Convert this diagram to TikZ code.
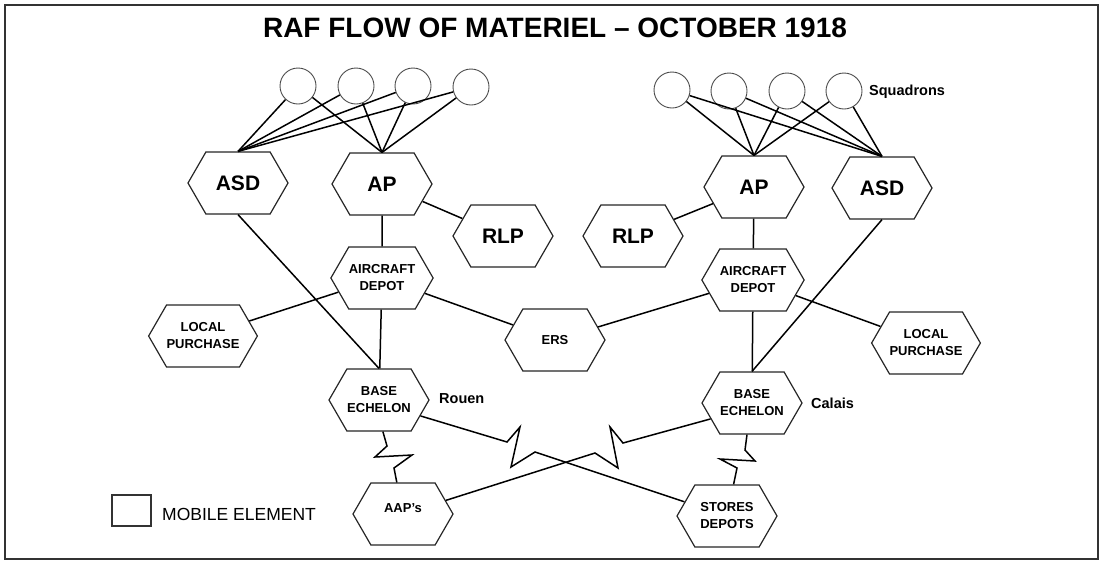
\documentclass[tikz,border=0pt]{standalone}
\usepackage{fontspec}
\setmainfont{Liberation Sans}
\usetikzlibrary{shapes.symbols,calc}
\begin{document}
\begin{tikzpicture}[x=1pt,y=-1pt,
  hexbase/.style={signal, signal to=west and east, signal pointer angle=120,
    draw=black!85, line width=1.2pt, minimum width=100pt, minimum height=62pt,
    inner sep=0pt, align=center, fill=white},
  hexbig/.style={hexbase, font=\bfseries\fontsize{21}{24}\selectfont},
  hexsmall/.style={hexbase, font=\bfseries\fontsize{13}{17}\selectfont},
  sq/.style={circle, draw=black!70, line width=0.9pt, minimum size=36pt, inner sep=0pt},
  conn/.style={draw=black, line width=1.5pt, line join=miter},
  lbl/.style={font=\bfseries\fontsize{14.5}{17}\selectfont, inner sep=0pt}]
\useasboundingbox (0,0) rectangle (1103,563);
\draw[line width=1.6pt, draw=black!80] (5,5) rectangle (1098,559);
\node[font=\bfseries\fontsize{28}{32}\selectfont, inner sep=0pt] (title) at (555,28) {RAF FLOW OF MATERIEL – OCTOBER 1918};

% squadrons
\node[sq] (c1) at (298,86) {};
\node[sq] (c2) at (356,86) {};
\node[sq] (c3) at (413,86) {};
\node[sq] (c4) at (471,87) {};
\node[sq] (d1) at (672,90) {};
\node[sq] (d2) at (729,91) {};
\node[sq] (d3) at (787,91) {};
\node[sq] (d4) at (844,91) {};
\node[lbl, anchor=west] (squad) at (869,92) {Squadrons};

% hexagons left
\node[hexbig] (asdL) at (238,183) {ASD};
\node[hexbig] (apL) at (382,184) {AP};
\node[hexbig] (rlpL) at (503,236) {RLP};
\node[hexsmall] (adL) at (382,278) {AIRCRAFT\\DEPOT};
\node[hexsmall] (lpL) at (203,336) {LOCAL\\PURCHASE};
\node[hexsmall] (beL) at (379,400) {BASE\\ECHELON};
\node[hexsmall] (ers) at (555,340) {ERS};
\node[hexsmall, text height=9pt, text depth=12.4pt] (aap) at (403,514) {AAP's};
% hexagons right
\node[hexbig] (apR) at (754,187) {AP};
\node[hexbig] (asdR) at (882,188) {ASD};
\node[hexbig] (rlpR) at (633,236) {RLP};
\node[hexsmall] (adR) at (753,280) {AIRCRAFT\\DEPOT};
\node[hexsmall] (lpR) at (926,343) {LOCAL\\PURCHASE};
\node[hexsmall] (beR) at (752,403) {BASE\\ECHELON};
\node[hexsmall] (sd) at (727,516) {STORES\\DEPOTS};

\node[lbl, anchor=west] (rouen) at (439,399) {Rouen};
\node[lbl, anchor=west] (calais) at (811,403) {Calais};

% legend
\node[draw=black!80, line width=1.2pt, minimum width=39pt, minimum height=31pt, inner sep=0pt] (legbox) at (131.5,510.5) {};
\node[font=\fontsize{17.5}{20}\selectfont, anchor=west, inner sep=0pt] (legtext) at (162,514) {MOBILE ELEMENT};

% squadron links
\foreach \c in {c1,c2,c3,c4}{
  \draw[conn] (\c) -- (asdL.north);
  \draw[conn] (\c) -- (apL.north);
}
\foreach \c in {d1,d2,d3,d4}{
  \draw[conn] (\c) -- (apR.north);
  \draw[conn] (\c) -- (asdR.north);
}

% left links
\draw[conn] (apL) -- (rlpL);
\draw[conn] (apL) -- (adL);
\draw[conn] (adL) -- (lpL);
\draw[conn] (adL) -- (ers);
\draw[conn] (adL) -- (beL);
\draw[conn] (asdL.south) -- (beL.north);
% right links
\draw[conn] (apR) -- (rlpR);
\draw[conn] (apR) -- (adR);
\draw[conn] (adR) -- (lpR);
\draw[conn] (ers) -- (adR);
\draw[conn] (adR) -- (beR);
\draw[conn] (asdR.south) -- (beR.north);

% zigzag links
\draw[conn] (beL.-83) -- (387,446) -- (375,457) -- (412,455) -- (394,468) -- (aap);
\draw[conn] (beR.-99) -- (745,450) -- (755,461) -- (720,459) -- (737,468) -- (sd);
\draw[conn] (beL.-21) -- (507,442) -- (520,427) -- (511,467) -- (535,452) -- (sd);
\draw[conn] (beR.-159) -- (623,443) -- (610,427) -- (618,468) -- (595,453) -- (aap);
\end{tikzpicture}
\end{document}
